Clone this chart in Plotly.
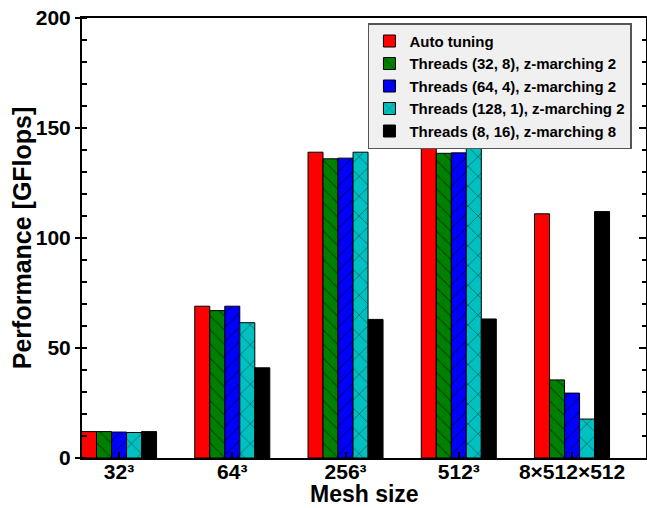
import plotly.graph_objects as go

categories = ["32³", "64³", "256³", "512³", "8×512×512"]
auto_tuning = [12.0, 69.0, 139.0, 141.5, 111.0]
threads_32_8 = [12.0, 67.0, 136.0, 138.5, 35.5]
threads_64_4 = [11.8, 69.0, 136.3, 138.7, 29.5]
threads_128_1 = [11.6, 61.5, 139.0, 141.5, 17.7]
threads_8_16 = [12.0, 41.0, 63.0, 63.2, 112.0]

series = [
    ("Auto tuning", auto_tuning, "#ff0000", "", 10),
    ("Threads (32, 8), z-marching 2", threads_32_8, "#008000", "\\", 10),
    ("Threads (64, 4), z-marching 2", threads_64_4, "#0000ff", "/", 10),
    ("Threads (128, 1), z-marching 2", threads_128_1, "#00c0c0", "x", 14),
    ("Threads (8, 16), z-marching 8", threads_8_16, "#000000", "", 10),
]

FONT = "Liberation Sans, Arial, sans-serif"
xpos = list(range(len(categories)))

fig = go.Figure()
for name, vals, color, pat, psize in series:
    fig.add_trace(go.Bar(
        name=name, x=xpos, y=vals,
        marker=dict(color=color, line=dict(color="black", width=1),
                    pattern=dict(shape=pat, fgcolor="black", size=psize, solidity=0.1)),
    ))

# invisible trace for right-side ticks
fig.add_trace(go.Scatter(x=[0], y=[0], yaxis="y2", mode="markers",
                         marker=dict(opacity=0), showlegend=False, hoverinfo="skip"))

fig.update_layout(
    width=647, height=508,
    margin=dict(l=82, r=1, t=18, b=50),
    paper_bgcolor="white", plot_bgcolor="white",
    barmode="group", bargap=0.3375, bargroupgap=0,
    font=dict(family=FONT, color="black"),
    showlegend=True,
    legend=dict(x=0.507, y=0.988, xanchor="left", yanchor="top",
                bgcolor="#f0f0f0", bordercolor="#555555", borderwidth=1.5,
                font=dict(size=15, weight="bold", family=FONT),
                tracegroupgap=0, itemwidth=30),
    xaxis=dict(
        range=[-0.327, 4.653], tickmode="array", tickvals=xpos, ticktext=categories,
        showline=True, linecolor="black", linewidth=2, mirror=True,
        ticks="inside", ticklen=6, tickwidth=2, tickcolor="black",
        tickfont=dict(size=21, weight="bold"), showgrid=False, zeroline=False,
        automargin=False, ticklabelstandoff=-6,
    ),
    yaxis=dict(
        range=[0, 200], dtick=50, tick0=0,
        showline=True, linecolor="black", linewidth=2, mirror=True,
        ticks="outside", ticklen=5, tickwidth=2, tickcolor="black",
        minor=dict(ticks="inside", ticklen=5, dtick=10, tickwidth=1.5, tickcolor="black", showgrid=False),
        tickfont=dict(size=21, weight="bold"), showgrid=False, zeroline=False,
        automargin=False,
    ),
    yaxis2=dict(
        overlaying="y", side="right", range=[0, 200], dtick=50, tick0=0,
        showticklabels=False, showgrid=False, zeroline=False, showline=False,
        ticks="inside", ticklen=7, tickwidth=2, tickcolor="black",
        minor=dict(ticks="inside", ticklen=4, dtick=10, tickwidth=1.5, tickcolor="black", showgrid=False),
        automargin=False,
    ),
    annotations=[
        dict(text="Mesh size", xref="paper", yref="paper", x=0.50, y=-0.0818,
             xanchor="center", yanchor="middle", showarrow=False, borderpad=0,
             font=dict(size=23, weight="bold", family=FONT)),
        dict(text="Performance [GFlops]", xref="paper", yref="paper", x=-0.106, y=0.5,
             xanchor="center", yanchor="middle", showarrow=False, textangle=-90,
             font=dict(size=25, weight="bold", family=FONT)),
    ],
)

fig.write_html("out.html", config={"displayModeBar": False},
               post_script="document.body.style.margin='0';document.body.style.padding='0';")
